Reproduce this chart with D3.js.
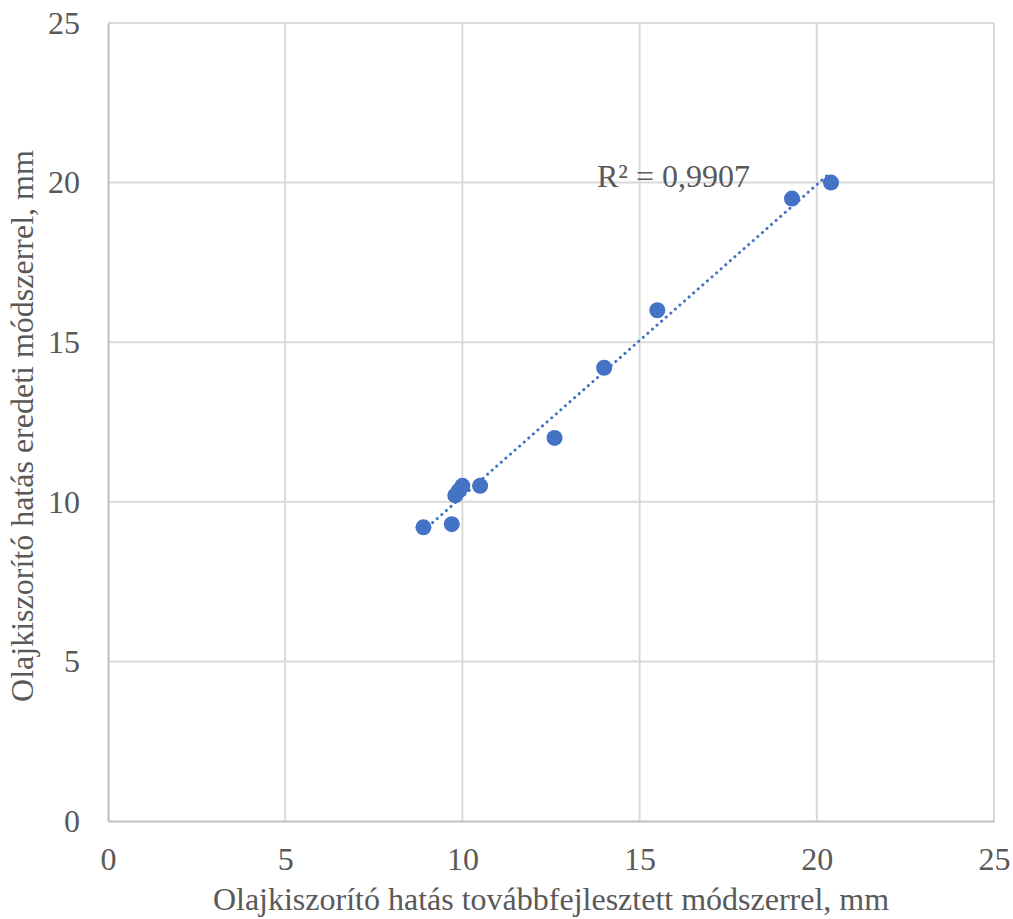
<!DOCTYPE html>
<html>
<head>
<meta charset="utf-8">
<script src="https://cdn.jsdelivr.net/npm/d3@7"></script>
<style>
  body { margin: 0; background: #fff; }
  text { font-family: "Liberation Serif", "Times New Roman", serif; fill: #595959; }
</style>
</head>
<body>
<svg id="chart" width="1013" height="919"></svg>
<script>
// data
var xVals = [8.9, 9.7, 9.8, 9.9, 10.0, 10.5, 12.6, 14.0, 15.5, 19.3, 20.4];
var yVals = [9.2, 9.3, 10.2, 10.35, 10.5, 10.5, 12.0, 14.2, 16.0, 19.5, 20.0];
var xTicks = [0, 5, 10, 15, 20, 25];
var yTicks = [0, 5, 10, 15, 20, 25];
var rSquaredLabel = "R² = 0,9907";
var xTitle = "Olajkiszorító hatás továbbfejlesztett módszerrel, mm";
var yTitle = "Olajkiszorító hatás eredeti módszerrel, mm";

var margin = {top: 23, right: 19, bottom: 98, left: 108},
    width = 1013 - margin.left - margin.right,
    height = 919 - margin.top - margin.bottom;

var svg = d3.select("#chart")
  .append("g")
    .attr("transform", "translate(" + margin.left + "," + margin.top + ")");

var x = d3.scaleLinear().domain([0, 25]).range([0, width]);
var y = d3.scaleLinear().domain([0, 25]).range([height, 0]);

// gridlines
svg.append("g")
  .selectAll("line.vgrid")
  .data(xTicks.slice(1))
  .enter().append("line")
    .attr("x1", function(d) { return x(d); })
    .attr("x2", function(d) { return x(d); })
    .attr("y1", 0).attr("y2", height)
    .attr("stroke", "#d9d9d9").attr("stroke-width", 2);

svg.append("g")
  .selectAll("line.hgrid")
  .data(yTicks.slice(1))
  .enter().append("line")
    .attr("x1", 0).attr("x2", width)
    .attr("y1", function(d) { return y(d); })
    .attr("y2", function(d) { return y(d); })
    .attr("stroke", "#d9d9d9").attr("stroke-width", 2);

// axes
var xAxis = svg.append("g")
  .attr("transform", "translate(0," + height + ")")
  .call(d3.axisBottom(x).tickValues(xTicks).tickSize(0).tickPadding(26));
var yAxis = svg.append("g")
  .call(d3.axisLeft(y).tickValues(yTicks).tickSize(0).tickPadding(28));

[xAxis, yAxis].forEach(function(a) {
  a.select(".domain").attr("stroke", "#bfbfbf").attr("stroke-width", 2);
  a.selectAll("text")
    .attr("fill", "#595959")
    .style("font-size", "32px")
    .style("font-family", "'Liberation Serif', 'Times New Roman', serif");
});

// linear trendline (least squares)
var n = xVals.length;
var mx = d3.mean(xVals), my = d3.mean(yVals);
var sxy = 0, sxx = 0;
for (var i = 0; i < n; i++) {
  sxy += (xVals[i] - mx) * (yVals[i] - my);
  sxx += (xVals[i] - mx) * (xVals[i] - mx);
}
var slope = sxy / sxx, icpt = my - slope * mx;
var x0 = d3.min(xVals), x1 = d3.max(xVals);

svg.append("line")
  .attr("x1", x(x0)).attr("y1", y(slope * x0 + icpt))
  .attr("x2", x(x1)).attr("y2", y(slope * x1 + icpt))
  .attr("stroke", "#4472c4")
  .attr("stroke-width", 3)
  .attr("stroke-linecap", "round")
  .attr("stroke-dasharray", "0.1 6");

// points
var pts = xVals.map(function(d, i) { return {x: d, y: yVals[i]}; });
svg.selectAll("circle")
  .data(pts)
  .enter().append("circle")
    .attr("cx", function(d) { return x(d.x); })
    .attr("cy", function(d) { return y(d.y); })
    .attr("r", 8)
    .attr("fill", "#4472c4");

// R² label
svg.append("text")
  .attr("x", 489)
  .attr("y", 164)
  .style("font-size", "32px")
  .text(rSquaredLabel);

// axis titles
svg.append("text")
  .attr("x", width / 2)
  .attr("y", height + 89)
  .attr("text-anchor", "middle")
  .style("font-size", "32px")
  .text(xTitle);

svg.append("text")
  .attr("transform", "translate(-75," + (height / 2 + 4) + ") rotate(-90)")
  .attr("text-anchor", "middle")
  .style("font-size", "32px")
  .text(yTitle);
</script>
</body>
</html>
